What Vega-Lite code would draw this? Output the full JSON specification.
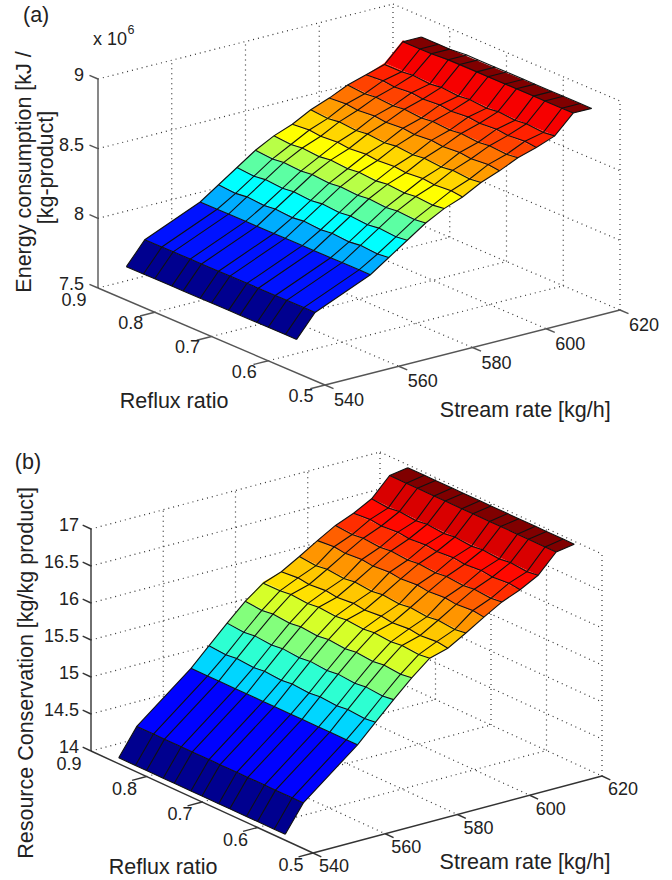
{"$schema":"https://vega.github.io/schema/vega-lite/v6.json","padding":0,"spacing":0,"background":"white","resolve":{"scale":{"fill":"independent"}},"config":{"view":{"stroke":null},"text":{"font":"Liberation Sans","fill":"#222"},"concat":{"spacing":0}},"vconcat":[
{"width":672,"height":440,"data":{"values":[
{"k":"g","g":"f1","s":560,"r":0.5,"z":7.5},{"k":"g","g":"f1","s":560,"r":0.9,"z":7.5},{"k":"g","g":"f2","s":580,"r":0.5,"z":7.5},{"k":"g","g":"f2","s":580,"r":0.9,"z":7.5},{"k":"g","g":"f3","s":600,"r":0.5,"z":7.5},{"k":"g","g":"f3","s":600,"r":0.9,"z":7.5},{"k":"g","g":"f4","s":620,"r":0.5,"z":7.5},{"k":"g","g":"f4","s":620,"r":0.9,"z":7.5},
{"k":"g","g":"f5","s":540,"r":0.6,"z":7.5},{"k":"g","g":"f5","s":620,"r":0.6,"z":7.5},{"k":"g","g":"f6","s":540,"r":0.7,"z":7.5},{"k":"g","g":"f6","s":620,"r":0.7,"z":7.5},{"k":"g","g":"f7","s":540,"r":0.8,"z":7.5},{"k":"g","g":"f7","s":620,"r":0.8,"z":7.5},{"k":"g","g":"f8","s":540,"r":0.9,"z":7.5},{"k":"g","g":"f8","s":620,"r":0.9,"z":7.5},
{"k":"g","g":"w1","s":540,"r":0.9,"z":8},{"k":"g","g":"w1","s":620,"r":0.9,"z":8},{"k":"g","g":"w2","s":540,"r":0.9,"z":8.5},{"k":"g","g":"w2","s":620,"r":0.9,"z":8.5},{"k":"g","g":"w3","s":540,"r":0.9,"z":9},{"k":"g","g":"w3","s":620,"r":0.9,"z":9},
{"k":"g","g":"v1","s":560,"r":0.9,"z":7.5},{"k":"g","g":"v1","s":560,"r":0.9,"z":9},{"k":"g","g":"v2","s":580,"r":0.9,"z":7.5},{"k":"g","g":"v2","s":580,"r":0.9,"z":9},{"k":"g","g":"v3","s":600,"r":0.9,"z":7.5},{"k":"g","g":"v3","s":600,"r":0.9,"z":9},{"k":"g","g":"v4","s":620,"r":0.9,"z":7.5},{"k":"g","g":"v4","s":620,"r":0.9,"z":9},
{"k":"g","g":"x1","s":620,"r":0.9,"z":8},{"k":"g","g":"x1","s":620,"r":0.5,"z":8},{"k":"g","g":"x2","s":620,"r":0.9,"z":8.5},{"k":"g","g":"x2","s":620,"r":0.5,"z":8.5},{"k":"g","g":"x3","s":620,"r":0.9,"z":9},{"k":"g","g":"x3","s":620,"r":0.5,"z":9},
{"k":"g","g":"h1","s":620,"r":0.5,"z":7.5},{"k":"g","g":"h1","s":620,"r":0.5,"z":9},{"k":"g","g":"h2","s":620,"r":0.6,"z":7.5},{"k":"g","g":"h2","s":620,"r":0.6,"z":9},{"k":"g","g":"h3","s":620,"r":0.7,"z":7.5},{"k":"g","g":"h3","s":620,"r":0.7,"z":9},{"k":"g","g":"h4","s":620,"r":0.8,"z":7.5},{"k":"g","g":"h4","s":620,"r":0.8,"z":9},
{"k":"a","g":"zx","s":540,"r":0.9,"z":7.5},{"k":"a","g":"zx","s":540,"r":0.9,"z":9},{"k":"a","g":"rx","s":540,"r":0.9,"z":7.5},{"k":"a","g":"rx","s":540,"r":0.5,"z":7.5},{"k":"a","g":"sx","s":540,"r":0.5,"z":7.5},{"k":"a","g":"sx","s":620,"r":0.5,"z":7.5},
{"k":"a","g":"t1","s":540,"r":0.9,"z":7.5},{"k":"a","g":"t1","s":540,"r":0.915,"z":7.5},{"k":"a","g":"t2","s":540,"r":0.9,"z":8},{"k":"a","g":"t2","s":540,"r":0.915,"z":8},{"k":"a","g":"t3","s":540,"r":0.9,"z":8.5},{"k":"a","g":"t3","s":540,"r":0.915,"z":8.5},{"k":"a","g":"t4","s":540,"r":0.9,"z":9},{"k":"a","g":"t4","s":540,"r":0.915,"z":9},
{"k":"a","g":"t5","s":540,"r":0.8,"z":7.5},{"k":"a","g":"t5","s":536,"r":0.8,"z":7.5},{"k":"a","g":"t6","s":540,"r":0.7,"z":7.5},{"k":"a","g":"t6","s":536,"r":0.7,"z":7.5},{"k":"a","g":"t7","s":540,"r":0.6,"z":7.5},{"k":"a","g":"t7","s":536,"r":0.6,"z":7.5},{"k":"a","g":"t8","s":540,"r":0.5,"z":7.5},{"k":"a","g":"t8","s":536,"r":0.5,"z":7.5},
{"k":"a","g":"t9","s":540,"r":0.5,"z":7.5},{"k":"a","g":"t9","s":540,"r":0.485,"z":7.5},{"k":"a","g":"t10","s":560,"r":0.5,"z":7.5},{"k":"a","g":"t10","s":560,"r":0.485,"z":7.5},{"k":"a","g":"t11","s":580,"r":0.5,"z":7.5},{"k":"a","g":"t11","s":580,"r":0.485,"z":7.5},{"k":"a","g":"t12","s":600,"r":0.5,"z":7.5},{"k":"a","g":"t12","s":600,"r":0.485,"z":7.5},{"k":"a","g":"t13","s":620,"r":0.5,"z":7.5},{"k":"a","g":"t13","s":620,"r":0.485,"z":7.5},
{"k":"b","b":0,"o":0,"s":540,"r":0.55,"z":7.74,"c":7.74},{"k":"b","b":0,"o":1,"s":545,"r":0.55,"z":7.9,"c":7.74},{"k":"b","b":0,"o":2,"s":545,"r":0.85,"z":7.9,"c":7.74},{"k":"b","b":0,"o":3,"s":540,"r":0.85,"z":7.74,"c":7.74},
{"k":"b","b":1,"o":0,"s":545,"r":0.55,"z":7.9,"c":7.9},{"k":"b","b":1,"o":1,"s":560,"r":0.55,"z":8.07,"c":7.9},{"k":"b","b":1,"o":2,"s":560,"r":0.85,"z":8.07,"c":7.9},{"k":"b","b":1,"o":3,"s":545,"r":0.85,"z":7.9,"c":7.9},
{"k":"b","b":2,"o":0,"s":560,"r":0.55,"z":8.07,"c":8.07},{"k":"b","b":2,"o":1,"s":565,"r":0.55,"z":8.16,"c":8.07},{"k":"b","b":2,"o":2,"s":565,"r":0.85,"z":8.16,"c":8.07},{"k":"b","b":2,"o":3,"s":560,"r":0.85,"z":8.07,"c":8.07},
{"k":"b","b":3,"o":0,"s":565,"r":0.55,"z":8.16,"c":8.16},{"k":"b","b":3,"o":1,"s":570,"r":0.55,"z":8.25,"c":8.16},{"k":"b","b":3,"o":2,"s":570,"r":0.85,"z":8.25,"c":8.16},{"k":"b","b":3,"o":3,"s":565,"r":0.85,"z":8.16,"c":8.16},
{"k":"b","b":4,"o":0,"s":570,"r":0.55,"z":8.25,"c":8.25},{"k":"b","b":4,"o":1,"s":575,"r":0.55,"z":8.34,"c":8.25},{"k":"b","b":4,"o":2,"s":575,"r":0.85,"z":8.34,"c":8.25},{"k":"b","b":4,"o":3,"s":570,"r":0.85,"z":8.25,"c":8.25},
{"k":"b","b":5,"o":0,"s":575,"r":0.55,"z":8.34,"c":8.34},{"k":"b","b":5,"o":1,"s":580,"r":0.55,"z":8.41,"c":8.34},{"k":"b","b":5,"o":2,"s":580,"r":0.85,"z":8.41,"c":8.34},{"k":"b","b":5,"o":3,"s":575,"r":0.85,"z":8.34,"c":8.34},
{"k":"b","b":6,"o":0,"s":580,"r":0.55,"z":8.41,"c":8.41},{"k":"b","b":6,"o":1,"s":585,"r":0.55,"z":8.46,"c":8.41},{"k":"b","b":6,"o":2,"s":585,"r":0.85,"z":8.46,"c":8.41},{"k":"b","b":6,"o":3,"s":580,"r":0.85,"z":8.41,"c":8.41},
{"k":"b","b":7,"o":0,"s":585,"r":0.55,"z":8.46,"c":8.46},{"k":"b","b":7,"o":1,"s":590,"r":0.55,"z":8.53,"c":8.46},{"k":"b","b":7,"o":2,"s":590,"r":0.85,"z":8.53,"c":8.46},{"k":"b","b":7,"o":3,"s":585,"r":0.85,"z":8.46,"c":8.46},
{"k":"b","b":8,"o":0,"s":590,"r":0.55,"z":8.53,"c":8.53},{"k":"b","b":8,"o":1,"s":595,"r":0.55,"z":8.58,"c":8.53},{"k":"b","b":8,"o":2,"s":595,"r":0.85,"z":8.58,"c":8.53},{"k":"b","b":8,"o":3,"s":590,"r":0.85,"z":8.53,"c":8.53},
{"k":"b","b":9,"o":0,"s":595,"r":0.55,"z":8.58,"c":8.58},{"k":"b","b":9,"o":1,"s":600,"r":0.55,"z":8.64,"c":8.58},{"k":"b","b":9,"o":2,"s":600,"r":0.85,"z":8.64,"c":8.58},{"k":"b","b":9,"o":3,"s":595,"r":0.85,"z":8.58,"c":8.58},
{"k":"b","b":10,"o":0,"s":600,"r":0.55,"z":8.64,"c":8.64},{"k":"b","b":10,"o":1,"s":605,"r":0.55,"z":8.68,"c":8.64},{"k":"b","b":10,"o":2,"s":605,"r":0.85,"z":8.68,"c":8.64},{"k":"b","b":10,"o":3,"s":600,"r":0.85,"z":8.64,"c":8.64},
{"k":"b","b":11,"o":0,"s":605,"r":0.55,"z":8.68,"c":8.68},{"k":"b","b":11,"o":1,"s":610,"r":0.55,"z":8.73,"c":8.68},{"k":"b","b":11,"o":2,"s":610,"r":0.85,"z":8.73,"c":8.68},{"k":"b","b":11,"o":3,"s":605,"r":0.85,"z":8.68,"c":8.68},
{"k":"b","b":12,"o":0,"s":610,"r":0.55,"z":8.73,"c":8.73},{"k":"b","b":12,"o":1,"s":615,"r":0.55,"z":8.86,"c":8.73},{"k":"b","b":12,"o":2,"s":615,"r":0.85,"z":8.86,"c":8.73},{"k":"b","b":12,"o":3,"s":610,"r":0.85,"z":8.73,"c":8.73},
{"k":"b","b":13,"o":0,"s":615,"r":0.55,"z":8.86,"c":8.86},{"k":"b","b":13,"o":1,"s":620,"r":0.55,"z":8.86,"c":8.86},{"k":"b","b":13,"o":2,"s":620,"r":0.85,"z":8.85,"c":8.86},{"k":"b","b":13,"o":3,"s":615,"r":0.85,"z":8.85,"c":8.86},
{"k":"n","s":540,"r":0.55,"z":7.74},{"k":"n","s":540,"r":0.57,"z":7.74},{"k":"n","s":540,"r":0.6,"z":7.74},{"k":"n","s":540,"r":0.62,"z":7.74},{"k":"n","s":540,"r":0.65,"z":7.74},{"k":"n","s":540,"r":0.67,"z":7.74},{"k":"n","s":540,"r":0.7,"z":7.74},{"k":"n","s":540,"r":0.72,"z":7.74},{"k":"n","s":540,"r":0.75,"z":7.74},{"k":"n","s":540,"r":0.77,"z":7.74},{"k":"n","s":540,"r":0.8,"z":7.74},{"k":"n","s":540,"r":0.82,"z":7.74},{"k":"n","s":540,"r":0.85,"z":7.74},
{"k":"n","s":545,"r":0.55,"z":7.9},{"k":"n","s":545,"r":0.57,"z":7.9},{"k":"n","s":545,"r":0.6,"z":7.9},{"k":"n","s":545,"r":0.62,"z":7.9},{"k":"n","s":545,"r":0.65,"z":7.9},{"k":"n","s":545,"r":0.67,"z":7.9},{"k":"n","s":545,"r":0.7,"z":7.9},{"k":"n","s":545,"r":0.72,"z":7.9},{"k":"n","s":545,"r":0.75,"z":7.9},{"k":"n","s":545,"r":0.77,"z":7.9},{"k":"n","s":545,"r":0.8,"z":7.9},{"k":"n","s":545,"r":0.82,"z":7.9},{"k":"n","s":545,"r":0.85,"z":7.9},
{"k":"n","s":560,"r":0.55,"z":8.07},{"k":"n","s":560,"r":0.57,"z":8.07},{"k":"n","s":560,"r":0.6,"z":8.07},{"k":"n","s":560,"r":0.62,"z":8.07},{"k":"n","s":560,"r":0.65,"z":8.07},{"k":"n","s":560,"r":0.67,"z":8.07},{"k":"n","s":560,"r":0.7,"z":8.07},{"k":"n","s":560,"r":0.72,"z":8.07},{"k":"n","s":560,"r":0.75,"z":8.07},{"k":"n","s":560,"r":0.77,"z":8.07},{"k":"n","s":560,"r":0.8,"z":8.07},{"k":"n","s":560,"r":0.82,"z":8.07},{"k":"n","s":560,"r":0.85,"z":8.07},
{"k":"n","s":565,"r":0.55,"z":8.16},{"k":"n","s":565,"r":0.57,"z":8.15},{"k":"n","s":565,"r":0.6,"z":8.16},{"k":"n","s":565,"r":0.62,"z":8.15},{"k":"n","s":565,"r":0.65,"z":8.16},{"k":"n","s":565,"r":0.67,"z":8.15},{"k":"n","s":565,"r":0.7,"z":8.16},{"k":"n","s":565,"r":0.72,"z":8.15},{"k":"n","s":565,"r":0.75,"z":8.16},{"k":"n","s":565,"r":0.77,"z":8.15},{"k":"n","s":565,"r":0.8,"z":8.16},{"k":"n","s":565,"r":0.82,"z":8.15},{"k":"n","s":565,"r":0.85,"z":8.16},
{"k":"n","s":570,"r":0.55,"z":8.25},{"k":"n","s":570,"r":0.57,"z":8.24},{"k":"n","s":570,"r":0.6,"z":8.25},{"k":"n","s":570,"r":0.62,"z":8.24},{"k":"n","s":570,"r":0.65,"z":8.25},{"k":"n","s":570,"r":0.67,"z":8.24},{"k":"n","s":570,"r":0.7,"z":8.25},{"k":"n","s":570,"r":0.72,"z":8.24},{"k":"n","s":570,"r":0.75,"z":8.25},{"k":"n","s":570,"r":0.77,"z":8.24},{"k":"n","s":570,"r":0.8,"z":8.25},{"k":"n","s":570,"r":0.82,"z":8.24},{"k":"n","s":570,"r":0.85,"z":8.25},
{"k":"n","s":575,"r":0.55,"z":8.34},{"k":"n","s":575,"r":0.57,"z":8.33},{"k":"n","s":575,"r":0.6,"z":8.34},{"k":"n","s":575,"r":0.62,"z":8.33},{"k":"n","s":575,"r":0.65,"z":8.34},{"k":"n","s":575,"r":0.67,"z":8.33},{"k":"n","s":575,"r":0.7,"z":8.34},{"k":"n","s":575,"r":0.72,"z":8.33},{"k":"n","s":575,"r":0.75,"z":8.34},{"k":"n","s":575,"r":0.77,"z":8.33},{"k":"n","s":575,"r":0.8,"z":8.34},{"k":"n","s":575,"r":0.82,"z":8.33},{"k":"n","s":575,"r":0.85,"z":8.34},
{"k":"n","s":580,"r":0.55,"z":8.41},{"k":"n","s":580,"r":0.57,"z":8.4},{"k":"n","s":580,"r":0.6,"z":8.41},{"k":"n","s":580,"r":0.62,"z":8.4},{"k":"n","s":580,"r":0.65,"z":8.41},{"k":"n","s":580,"r":0.67,"z":8.4},{"k":"n","s":580,"r":0.7,"z":8.41},{"k":"n","s":580,"r":0.72,"z":8.4},{"k":"n","s":580,"r":0.75,"z":8.41},{"k":"n","s":580,"r":0.77,"z":8.4},{"k":"n","s":580,"r":0.8,"z":8.41},{"k":"n","s":580,"r":0.82,"z":8.4},{"k":"n","s":580,"r":0.85,"z":8.41},
{"k":"n","s":585,"r":0.55,"z":8.46},{"k":"n","s":585,"r":0.57,"z":8.47},{"k":"n","s":585,"r":0.6,"z":8.46},{"k":"n","s":585,"r":0.62,"z":8.47},{"k":"n","s":585,"r":0.65,"z":8.46},{"k":"n","s":585,"r":0.67,"z":8.47},{"k":"n","s":585,"r":0.7,"z":8.46},{"k":"n","s":585,"r":0.72,"z":8.47},{"k":"n","s":585,"r":0.75,"z":8.46},{"k":"n","s":585,"r":0.77,"z":8.47},{"k":"n","s":585,"r":0.8,"z":8.46},{"k":"n","s":585,"r":0.82,"z":8.47},{"k":"n","s":585,"r":0.85,"z":8.46},
{"k":"n","s":590,"r":0.55,"z":8.53},{"k":"n","s":590,"r":0.57,"z":8.52},{"k":"n","s":590,"r":0.6,"z":8.53},{"k":"n","s":590,"r":0.62,"z":8.52},{"k":"n","s":590,"r":0.65,"z":8.53},{"k":"n","s":590,"r":0.67,"z":8.52},{"k":"n","s":590,"r":0.7,"z":8.53},{"k":"n","s":590,"r":0.72,"z":8.52},{"k":"n","s":590,"r":0.75,"z":8.53},{"k":"n","s":590,"r":0.77,"z":8.52},{"k":"n","s":590,"r":0.8,"z":8.53},{"k":"n","s":590,"r":0.82,"z":8.52},{"k":"n","s":590,"r":0.85,"z":8.53},
{"k":"n","s":595,"r":0.55,"z":8.58},{"k":"n","s":595,"r":0.57,"z":8.59},{"k":"n","s":595,"r":0.6,"z":8.58},{"k":"n","s":595,"r":0.62,"z":8.59},{"k":"n","s":595,"r":0.65,"z":8.58},{"k":"n","s":595,"r":0.67,"z":8.59},{"k":"n","s":595,"r":0.7,"z":8.58},{"k":"n","s":595,"r":0.72,"z":8.59},{"k":"n","s":595,"r":0.75,"z":8.58},{"k":"n","s":595,"r":0.77,"z":8.59},{"k":"n","s":595,"r":0.8,"z":8.58},{"k":"n","s":595,"r":0.82,"z":8.59},{"k":"n","s":595,"r":0.85,"z":8.58},
{"k":"n","s":600,"r":0.55,"z":8.64},{"k":"n","s":600,"r":0.57,"z":8.63},{"k":"n","s":600,"r":0.6,"z":8.64},{"k":"n","s":600,"r":0.62,"z":8.63},{"k":"n","s":600,"r":0.65,"z":8.64},{"k":"n","s":600,"r":0.67,"z":8.63},{"k":"n","s":600,"r":0.7,"z":8.64},{"k":"n","s":600,"r":0.72,"z":8.63},{"k":"n","s":600,"r":0.75,"z":8.64},{"k":"n","s":600,"r":0.77,"z":8.63},{"k":"n","s":600,"r":0.8,"z":8.64},{"k":"n","s":600,"r":0.82,"z":8.63},{"k":"n","s":600,"r":0.85,"z":8.64},
{"k":"n","s":605,"r":0.55,"z":8.68},{"k":"n","s":605,"r":0.57,"z":8.69},{"k":"n","s":605,"r":0.6,"z":8.68},{"k":"n","s":605,"r":0.62,"z":8.69},{"k":"n","s":605,"r":0.65,"z":8.68},{"k":"n","s":605,"r":0.67,"z":8.69},{"k":"n","s":605,"r":0.7,"z":8.68},{"k":"n","s":605,"r":0.72,"z":8.69},{"k":"n","s":605,"r":0.75,"z":8.68},{"k":"n","s":605,"r":0.77,"z":8.69},{"k":"n","s":605,"r":0.8,"z":8.68},{"k":"n","s":605,"r":0.82,"z":8.69},{"k":"n","s":605,"r":0.85,"z":8.68},
{"k":"n","s":610,"r":0.55,"z":8.73},{"k":"n","s":610,"r":0.57,"z":8.72},{"k":"n","s":610,"r":0.6,"z":8.73},{"k":"n","s":610,"r":0.62,"z":8.72},{"k":"n","s":610,"r":0.65,"z":8.73},{"k":"n","s":610,"r":0.67,"z":8.72},{"k":"n","s":610,"r":0.7,"z":8.73},{"k":"n","s":610,"r":0.72,"z":8.72},{"k":"n","s":610,"r":0.75,"z":8.73},{"k":"n","s":610,"r":0.77,"z":8.72},{"k":"n","s":610,"r":0.8,"z":8.73},{"k":"n","s":610,"r":0.82,"z":8.72},{"k":"n","s":610,"r":0.85,"z":8.72},
{"k":"n","s":615,"r":0.55,"z":8.86},{"k":"n","s":615,"r":0.57,"z":8.86},{"k":"n","s":615,"r":0.6,"z":8.86},{"k":"n","s":615,"r":0.62,"z":8.86},{"k":"n","s":615,"r":0.65,"z":8.86},{"k":"n","s":615,"r":0.67,"z":8.86},{"k":"n","s":615,"r":0.7,"z":8.86},{"k":"n","s":615,"r":0.72,"z":8.86},{"k":"n","s":615,"r":0.75,"z":8.86},{"k":"n","s":615,"r":0.77,"z":8.86},{"k":"n","s":615,"r":0.8,"z":8.85},{"k":"n","s":615,"r":0.82,"z":8.85},{"k":"n","s":615,"r":0.85,"z":8.85},
{"k":"n","s":620,"r":0.55,"z":8.86},{"k":"n","s":620,"r":0.57,"z":8.86},{"k":"n","s":620,"r":0.6,"z":8.86},{"k":"n","s":620,"r":0.62,"z":8.86},{"k":"n","s":620,"r":0.65,"z":8.86},{"k":"n","s":620,"r":0.67,"z":8.86},{"k":"n","s":620,"r":0.7,"z":8.86},{"k":"n","s":620,"r":0.72,"z":8.86},{"k":"n","s":620,"r":0.75,"z":8.86},{"k":"n","s":620,"r":0.77,"z":8.86},{"k":"n","s":620,"r":0.8,"z":8.85},{"k":"n","s":620,"r":0.82,"z":8.85},{"k":"n","s":620,"r":0.85,"z":8.85},
{"k":"t","s":540,"r":0.4577,"z":7.4587,"t":"540"},{"k":"t","s":560,"r":0.4577,"z":7.4587,"t":"560"},{"k":"t","s":580,"r":0.4577,"z":7.4587,"t":"580"},{"k":"t","s":600,"r":0.4577,"z":7.4587,"t":"600"},{"k":"t","s":620,"r":0.4577,"z":7.4587,"t":"620"},
{"k":"t","s":533.5,"r":0.5,"z":7.458,"t":"0.5"},{"k":"t","s":533.5,"r":0.6,"z":7.458,"t":"0.6"},{"k":"t","s":533.5,"r":0.7,"z":7.458,"t":"0.7"},{"k":"t","s":533.5,"r":0.8,"z":7.458,"t":"0.8"},{"k":"t","s":533.5,"r":0.9,"z":7.45,"t":"0.9"},
{"k":"z","s":540,"r":0.9,"z":7.5,"t":"7.5"},{"k":"z","s":540,"r":0.9,"z":8,"t":"8"},{"k":"z","s":540,"r":0.9,"z":8.5,"t":"8.5"},{"k":"z","s":540,"r":0.9,"z":9,"t":"9"},
{"k":"l","s":540,"r":1.009,"z":9.262,"t":"(a)"},{"k":"l","s":540,"r":0.766,"z":6.915,"t":"Reflux ratio"},{"k":"l","s":620,"r":0.667,"z":6.483,"t":"Stream rate [kg/h]"},
{"k":"m","s":540,"r":0.879,"z":9.317,"t":"x 10"},{"k":"u","s":540,"r":0.842,"z":9.453,"t":"6"},
{"k":"y","s":540,"r":1.0286,"z":8.109,"t":"Energy consumption [kJ /"},{"k":"y","s":540,"r":0.989,"z":8.21,"t":"[kg-product]"}
]},"transform":[{"calculate":"325+295*(datum.s-540)/80-227*(datum.r-0.5)/0.4","as":"px"},{"calculate":"385-75*(datum.s-540)/80-97*(datum.r-0.5)/0.4-209*(datum.z-7.5)/1.5","as":"py"}],
"encoding":{"x":{"field":"px","type":"quantitative","scale":{"domain":[0,672],"nice":false,"zero":false},"axis":null},"y":{"field":"py","type":"quantitative","scale":{"domain":[440,0],"nice":false,"zero":false},"axis":null}},
"layer":[
{"transform":[{"filter":"datum.k=='g'"}],"mark":{"type":"line","stroke":"#333","strokeWidth":1.2,"strokeDash":[1,4]},"encoding":{"detail":{"field":"g"}}},
{"transform":[{"filter":"datum.k=='a'"}],"mark":{"type":"line","stroke":"#555","strokeWidth":1.4},"encoding":{"detail":{"field":"g"}}},
{"transform":[{"filter":"datum.k=='b'"}],"mark":{"type":"line","stroke":null,"strokeWidth":0},"encoding":{"fill":{"field":"c","type":"quantitative","legend":null,"scale":{"domain":[7.74,7.88,8.16,8.41,8.72,8.86],"range":["#00008f","#0000ff","#00ffff","#ffff00","#ff0000","#800000"],"interpolate":"rgb"}},"detail":{"field":"b"},"order":{"field":"o"}}},
{"transform":[{"filter":"datum.k=='n'"}],"mark":{"type":"line","stroke":"#111","strokeWidth":1.1},"encoding":{"detail":{"field":"r"}}},
{"transform":[{"filter":"datum.k=='n'"}],"mark":{"type":"line","stroke":"#111","strokeWidth":1.1},"encoding":{"detail":{"field":"s"}}},
{"transform":[{"filter":"datum.k=='t'"}],"mark":{"type":"text","fontSize":18,"baseline":"middle","align":"center"},"encoding":{"text":{"field":"t"}}},
{"transform":[{"filter":"datum.k=='z'"}],"mark":{"type":"text","fontSize":18,"baseline":"middle","align":"right","dx":-14,"dy":-3},"encoding":{"text":{"field":"t"}}},
{"transform":[{"filter":"datum.k=='l'"}],"mark":{"type":"text","fontSize":21.5,"baseline":"middle","align":"center"},"encoding":{"text":{"field":"t"}}},
{"transform":[{"filter":"datum.k=='m'"}],"mark":{"type":"text","fontSize":18,"baseline":"middle","align":"center"},"encoding":{"text":{"field":"t"}}},
{"transform":[{"filter":"datum.k=='u'"}],"mark":{"type":"text","fontSize":12.5,"baseline":"middle","align":"center"},"encoding":{"text":{"field":"t"}}},
{"transform":[{"filter":"datum.k=='y'"}],"mark":{"type":"text","fontSize":21.5,"baseline":"middle","align":"center","angle":270},"encoding":{"text":{"field":"t"}}}
]},
{"width":672,"height":440,"data":{"values":[
{"k":"g","g":"f1","s":560,"r":0.5,"z":14},{"k":"g","g":"f1","s":560,"r":0.9,"z":14},{"k":"g","g":"f2","s":580,"r":0.5,"z":14},{"k":"g","g":"f2","s":580,"r":0.9,"z":14},{"k":"g","g":"f3","s":600,"r":0.5,"z":14},{"k":"g","g":"f3","s":600,"r":0.9,"z":14},{"k":"g","g":"f4","s":620,"r":0.5,"z":14},{"k":"g","g":"f4","s":620,"r":0.9,"z":14},
{"k":"g","g":"f5","s":540,"r":0.6,"z":14},{"k":"g","g":"f5","s":620,"r":0.6,"z":14},{"k":"g","g":"f6","s":540,"r":0.7,"z":14},{"k":"g","g":"f6","s":620,"r":0.7,"z":14},{"k":"g","g":"f7","s":540,"r":0.8,"z":14},{"k":"g","g":"f7","s":620,"r":0.8,"z":14},{"k":"g","g":"f8","s":540,"r":0.9,"z":14},{"k":"g","g":"f8","s":620,"r":0.9,"z":14},
{"k":"g","g":"w1","s":540,"r":0.9,"z":14.5},{"k":"g","g":"w1","s":620,"r":0.9,"z":14.5},{"k":"g","g":"w2","s":540,"r":0.9,"z":15},{"k":"g","g":"w2","s":620,"r":0.9,"z":15},{"k":"g","g":"w3","s":540,"r":0.9,"z":15.5},{"k":"g","g":"w3","s":620,"r":0.9,"z":15.5},{"k":"g","g":"w4","s":540,"r":0.9,"z":16},{"k":"g","g":"w4","s":620,"r":0.9,"z":16},{"k":"g","g":"w5","s":540,"r":0.9,"z":16.5},{"k":"g","g":"w5","s":620,"r":0.9,"z":16.5},{"k":"g","g":"w6","s":540,"r":0.9,"z":17},{"k":"g","g":"w6","s":620,"r":0.9,"z":17},
{"k":"g","g":"v1","s":560,"r":0.9,"z":14},{"k":"g","g":"v1","s":560,"r":0.9,"z":17},{"k":"g","g":"v2","s":580,"r":0.9,"z":14},{"k":"g","g":"v2","s":580,"r":0.9,"z":17},{"k":"g","g":"v3","s":600,"r":0.9,"z":14},{"k":"g","g":"v3","s":600,"r":0.9,"z":17},{"k":"g","g":"v4","s":620,"r":0.9,"z":14},{"k":"g","g":"v4","s":620,"r":0.9,"z":17},
{"k":"g","g":"x1","s":620,"r":0.9,"z":14.5},{"k":"g","g":"x1","s":620,"r":0.5,"z":14.5},{"k":"g","g":"x2","s":620,"r":0.9,"z":15},{"k":"g","g":"x2","s":620,"r":0.5,"z":15},{"k":"g","g":"x3","s":620,"r":0.9,"z":15.5},{"k":"g","g":"x3","s":620,"r":0.5,"z":15.5},{"k":"g","g":"x4","s":620,"r":0.9,"z":16},{"k":"g","g":"x4","s":620,"r":0.5,"z":16},{"k":"g","g":"x5","s":620,"r":0.9,"z":16.5},{"k":"g","g":"x5","s":620,"r":0.5,"z":16.5},{"k":"g","g":"x6","s":620,"r":0.9,"z":17},{"k":"g","g":"x6","s":620,"r":0.5,"z":17},
{"k":"g","g":"h1","s":620,"r":0.5,"z":14},{"k":"g","g":"h1","s":620,"r":0.5,"z":17},{"k":"g","g":"h2","s":620,"r":0.6,"z":14},{"k":"g","g":"h2","s":620,"r":0.6,"z":17},{"k":"g","g":"h3","s":620,"r":0.7,"z":14},{"k":"g","g":"h3","s":620,"r":0.7,"z":17},{"k":"g","g":"h4","s":620,"r":0.8,"z":14},{"k":"g","g":"h4","s":620,"r":0.8,"z":17},
{"k":"a","g":"zx","s":540,"r":0.9,"z":14},{"k":"a","g":"zx","s":540,"r":0.9,"z":17},{"k":"a","g":"rx","s":540,"r":0.9,"z":14},{"k":"a","g":"rx","s":540,"r":0.5,"z":14},{"k":"a","g":"sx","s":540,"r":0.5,"z":14},{"k":"a","g":"sx","s":620,"r":0.5,"z":14},
{"k":"a","g":"t1","s":540,"r":0.9,"z":14},{"k":"a","g":"t1","s":540,"r":0.915,"z":14},{"k":"a","g":"t2","s":540,"r":0.9,"z":14.5},{"k":"a","g":"t2","s":540,"r":0.915,"z":14.5},{"k":"a","g":"t3","s":540,"r":0.9,"z":15},{"k":"a","g":"t3","s":540,"r":0.915,"z":15},{"k":"a","g":"t3b","s":540,"r":0.9,"z":15.5},{"k":"a","g":"t3b","s":540,"r":0.915,"z":15.5},{"k":"a","g":"t3c","s":540,"r":0.9,"z":16},{"k":"a","g":"t3c","s":540,"r":0.915,"z":16},{"k":"a","g":"t3d","s":540,"r":0.9,"z":16.5},{"k":"a","g":"t3d","s":540,"r":0.915,"z":16.5},{"k":"a","g":"t4","s":540,"r":0.9,"z":17},{"k":"a","g":"t4","s":540,"r":0.915,"z":17},
{"k":"a","g":"t5","s":540,"r":0.8,"z":14},{"k":"a","g":"t5","s":536,"r":0.8,"z":14},{"k":"a","g":"t6","s":540,"r":0.7,"z":14},{"k":"a","g":"t6","s":536,"r":0.7,"z":14},{"k":"a","g":"t7","s":540,"r":0.6,"z":14},{"k":"a","g":"t7","s":536,"r":0.6,"z":14},{"k":"a","g":"t8","s":540,"r":0.5,"z":14},{"k":"a","g":"t8","s":536,"r":0.5,"z":14},
{"k":"a","g":"t9","s":540,"r":0.5,"z":14},{"k":"a","g":"t9","s":540,"r":0.485,"z":14},{"k":"a","g":"t10","s":560,"r":0.5,"z":14},{"k":"a","g":"t10","s":560,"r":0.485,"z":14},{"k":"a","g":"t11","s":580,"r":0.5,"z":14},{"k":"a","g":"t11","s":580,"r":0.485,"z":14},{"k":"a","g":"t12","s":600,"r":0.5,"z":14},{"k":"a","g":"t12","s":600,"r":0.485,"z":14},{"k":"a","g":"t13","s":620,"r":0.5,"z":14},{"k":"a","g":"t13","s":620,"r":0.485,"z":14},
{"k":"b","b":0,"o":0,"s":540,"r":0.55,"z":14.08,"c":14.08},{"k":"b","b":0,"o":1,"s":545,"r":0.55,"z":14.44,"c":14.08},{"k":"b","b":0,"o":2,"s":545,"r":0.85,"z":14.44,"c":14.08},{"k":"b","b":0,"o":3,"s":540,"r":0.85,"z":14.08,"c":14.08},
{"k":"b","b":1,"o":0,"s":545,"r":0.55,"z":14.44,"c":14.44},{"k":"b","b":1,"o":1,"s":560,"r":0.55,"z":15.03,"c":14.44},{"k":"b","b":1,"o":2,"s":560,"r":0.85,"z":15.03,"c":14.44},{"k":"b","b":1,"o":3,"s":545,"r":0.85,"z":14.44,"c":14.44},
{"k":"b","b":2,"o":0,"s":560,"r":0.55,"z":15.03,"c":15.03},{"k":"b","b":2,"o":1,"s":565,"r":0.55,"z":15.27,"c":15.03},{"k":"b","b":2,"o":2,"s":565,"r":0.85,"z":15.27,"c":15.03},{"k":"b","b":2,"o":3,"s":560,"r":0.85,"z":15.03,"c":15.03},
{"k":"b","b":3,"o":0,"s":565,"r":0.55,"z":15.27,"c":15.27},{"k":"b","b":3,"o":1,"s":570,"r":0.55,"z":15.51,"c":15.27},{"k":"b","b":3,"o":2,"s":570,"r":0.85,"z":15.51,"c":15.27},{"k":"b","b":3,"o":3,"s":565,"r":0.85,"z":15.27,"c":15.27},
{"k":"b","b":4,"o":0,"s":570,"r":0.55,"z":15.51,"c":15.51},{"k":"b","b":4,"o":1,"s":575,"r":0.55,"z":15.74,"c":15.51},{"k":"b","b":4,"o":2,"s":575,"r":0.85,"z":15.74,"c":15.51},{"k":"b","b":4,"o":3,"s":570,"r":0.85,"z":15.51,"c":15.51},
{"k":"b","b":5,"o":0,"s":575,"r":0.55,"z":15.74,"c":15.74},{"k":"b","b":5,"o":1,"s":580,"r":0.55,"z":15.94,"c":15.74},{"k":"b","b":5,"o":2,"s":580,"r":0.85,"z":15.94,"c":15.74},{"k":"b","b":5,"o":3,"s":575,"r":0.85,"z":15.74,"c":15.74},
{"k":"b","b":6,"o":0,"s":580,"r":0.55,"z":15.94,"c":15.94},{"k":"b","b":6,"o":1,"s":585,"r":0.55,"z":16.01,"c":15.94},{"k":"b","b":6,"o":2,"s":585,"r":0.85,"z":16.01,"c":15.94},{"k":"b","b":6,"o":3,"s":580,"r":0.85,"z":15.94,"c":15.94},
{"k":"b","b":7,"o":0,"s":585,"r":0.55,"z":16.01,"c":16.01},{"k":"b","b":7,"o":1,"s":590,"r":0.55,"z":16.15,"c":16.01},{"k":"b","b":7,"o":2,"s":590,"r":0.85,"z":16.15,"c":16.01},{"k":"b","b":7,"o":3,"s":585,"r":0.85,"z":16.01,"c":16.01},
{"k":"b","b":8,"o":0,"s":590,"r":0.55,"z":16.15,"c":16.15},{"k":"b","b":8,"o":1,"s":595,"r":0.55,"z":16.3,"c":16.15},{"k":"b","b":8,"o":2,"s":595,"r":0.85,"z":16.3,"c":16.15},{"k":"b","b":8,"o":3,"s":590,"r":0.85,"z":16.15,"c":16.15},
{"k":"b","b":9,"o":0,"s":595,"r":0.55,"z":16.3,"c":16.3},{"k":"b","b":9,"o":1,"s":600,"r":0.55,"z":16.44,"c":16.3},{"k":"b","b":9,"o":2,"s":600,"r":0.85,"z":16.44,"c":16.3},{"k":"b","b":9,"o":3,"s":595,"r":0.85,"z":16.3,"c":16.3},
{"k":"b","b":10,"o":0,"s":600,"r":0.55,"z":16.44,"c":16.44},{"k":"b","b":10,"o":1,"s":605,"r":0.55,"z":16.54,"c":16.44},{"k":"b","b":10,"o":2,"s":605,"r":0.85,"z":16.54,"c":16.44},{"k":"b","b":10,"o":3,"s":600,"r":0.85,"z":16.44,"c":16.44},
{"k":"b","b":11,"o":0,"s":605,"r":0.55,"z":16.54,"c":16.54},{"k":"b","b":11,"o":1,"s":610,"r":0.55,"z":16.67,"c":16.54},{"k":"b","b":11,"o":2,"s":610,"r":0.85,"z":16.67,"c":16.54},{"k":"b","b":11,"o":3,"s":605,"r":0.85,"z":16.54,"c":16.54},
{"k":"b","b":12,"o":0,"s":610,"r":0.55,"z":16.67,"c":16.67},{"k":"b","b":12,"o":1,"s":615,"r":0.55,"z":16.92,"c":16.67},{"k":"b","b":12,"o":2,"s":615,"r":0.85,"z":16.92,"c":16.67},{"k":"b","b":12,"o":3,"s":610,"r":0.85,"z":16.67,"c":16.67},
{"k":"b","b":13,"o":0,"s":615,"r":0.55,"z":16.92,"c":16.92},{"k":"b","b":13,"o":1,"s":620,"r":0.55,"z":16.96,"c":16.92},{"k":"b","b":13,"o":2,"s":620,"r":0.85,"z":16.96,"c":16.92},{"k":"b","b":13,"o":3,"s":615,"r":0.85,"z":16.92,"c":16.92},
{"k":"n","s":540,"r":0.55,"z":14.08},{"k":"n","s":540,"r":0.57,"z":14.08},{"k":"n","s":540,"r":0.6,"z":14.08},{"k":"n","s":540,"r":0.62,"z":14.08},{"k":"n","s":540,"r":0.65,"z":14.08},{"k":"n","s":540,"r":0.67,"z":14.08},{"k":"n","s":540,"r":0.7,"z":14.08},{"k":"n","s":540,"r":0.72,"z":14.08},{"k":"n","s":540,"r":0.75,"z":14.08},{"k":"n","s":540,"r":0.77,"z":14.08},{"k":"n","s":540,"r":0.8,"z":14.08},{"k":"n","s":540,"r":0.82,"z":14.08},{"k":"n","s":540,"r":0.85,"z":14.08},
{"k":"n","s":545,"r":0.55,"z":14.44},{"k":"n","s":545,"r":0.57,"z":14.44},{"k":"n","s":545,"r":0.6,"z":14.44},{"k":"n","s":545,"r":0.62,"z":14.44},{"k":"n","s":545,"r":0.65,"z":14.44},{"k":"n","s":545,"r":0.67,"z":14.44},{"k":"n","s":545,"r":0.7,"z":14.44},{"k":"n","s":545,"r":0.72,"z":14.44},{"k":"n","s":545,"r":0.75,"z":14.44},{"k":"n","s":545,"r":0.77,"z":14.44},{"k":"n","s":545,"r":0.8,"z":14.44},{"k":"n","s":545,"r":0.82,"z":14.44},{"k":"n","s":545,"r":0.85,"z":14.44},
{"k":"n","s":560,"r":0.55,"z":15.03},{"k":"n","s":560,"r":0.57,"z":15.03},{"k":"n","s":560,"r":0.6,"z":15.03},{"k":"n","s":560,"r":0.62,"z":15.03},{"k":"n","s":560,"r":0.65,"z":15.03},{"k":"n","s":560,"r":0.67,"z":15.03},{"k":"n","s":560,"r":0.7,"z":15.03},{"k":"n","s":560,"r":0.72,"z":15.03},{"k":"n","s":560,"r":0.75,"z":15.03},{"k":"n","s":560,"r":0.77,"z":15.03},{"k":"n","s":560,"r":0.8,"z":15.03},{"k":"n","s":560,"r":0.82,"z":15.03},{"k":"n","s":560,"r":0.85,"z":15.03},
{"k":"n","s":565,"r":0.55,"z":15.27},{"k":"n","s":565,"r":0.57,"z":15.25},{"k":"n","s":565,"r":0.6,"z":15.27},{"k":"n","s":565,"r":0.62,"z":15.25},{"k":"n","s":565,"r":0.65,"z":15.27},{"k":"n","s":565,"r":0.67,"z":15.25},{"k":"n","s":565,"r":0.7,"z":15.27},{"k":"n","s":565,"r":0.72,"z":15.25},{"k":"n","s":565,"r":0.75,"z":15.27},{"k":"n","s":565,"r":0.77,"z":15.25},{"k":"n","s":565,"r":0.8,"z":15.27},{"k":"n","s":565,"r":0.82,"z":15.25},{"k":"n","s":565,"r":0.85,"z":15.27},
{"k":"n","s":570,"r":0.55,"z":15.51},{"k":"n","s":570,"r":0.57,"z":15.49},{"k":"n","s":570,"r":0.6,"z":15.51},{"k":"n","s":570,"r":0.62,"z":15.49},{"k":"n","s":570,"r":0.65,"z":15.51},{"k":"n","s":570,"r":0.67,"z":15.49},{"k":"n","s":570,"r":0.7,"z":15.51},{"k":"n","s":570,"r":0.72,"z":15.49},{"k":"n","s":570,"r":0.75,"z":15.51},{"k":"n","s":570,"r":0.77,"z":15.49},{"k":"n","s":570,"r":0.8,"z":15.51},{"k":"n","s":570,"r":0.82,"z":15.49},{"k":"n","s":570,"r":0.85,"z":15.51},
{"k":"n","s":575,"r":0.55,"z":15.74},{"k":"n","s":575,"r":0.57,"z":15.72},{"k":"n","s":575,"r":0.6,"z":15.74},{"k":"n","s":575,"r":0.62,"z":15.72},{"k":"n","s":575,"r":0.65,"z":15.74},{"k":"n","s":575,"r":0.67,"z":15.72},{"k":"n","s":575,"r":0.7,"z":15.74},{"k":"n","s":575,"r":0.72,"z":15.72},{"k":"n","s":575,"r":0.75,"z":15.74},{"k":"n","s":575,"r":0.77,"z":15.72},{"k":"n","s":575,"r":0.8,"z":15.74},{"k":"n","s":575,"r":0.82,"z":15.72},{"k":"n","s":575,"r":0.85,"z":15.74},
{"k":"n","s":580,"r":0.55,"z":15.94},{"k":"n","s":580,"r":0.57,"z":15.92},{"k":"n","s":580,"r":0.6,"z":15.94},{"k":"n","s":580,"r":0.62,"z":15.92},{"k":"n","s":580,"r":0.65,"z":15.94},{"k":"n","s":580,"r":0.67,"z":15.92},{"k":"n","s":580,"r":0.7,"z":15.94},{"k":"n","s":580,"r":0.72,"z":15.92},{"k":"n","s":580,"r":0.75,"z":15.94},{"k":"n","s":580,"r":0.77,"z":15.92},{"k":"n","s":580,"r":0.8,"z":15.94},{"k":"n","s":580,"r":0.82,"z":15.92},{"k":"n","s":580,"r":0.85,"z":15.92},
{"k":"n","s":585,"r":0.55,"z":16.01},{"k":"n","s":585,"r":0.57,"z":16.03},{"k":"n","s":585,"r":0.6,"z":16.01},{"k":"n","s":585,"r":0.62,"z":16.03},{"k":"n","s":585,"r":0.65,"z":16.01},{"k":"n","s":585,"r":0.67,"z":16.03},{"k":"n","s":585,"r":0.7,"z":16.01},{"k":"n","s":585,"r":0.72,"z":16.03},{"k":"n","s":585,"r":0.75,"z":16.01},{"k":"n","s":585,"r":0.77,"z":16.03},{"k":"n","s":585,"r":0.8,"z":16.01},{"k":"n","s":585,"r":0.82,"z":16.03},{"k":"n","s":585,"r":0.85,"z":16.01},
{"k":"n","s":590,"r":0.55,"z":16.15},{"k":"n","s":590,"r":0.57,"z":16.13},{"k":"n","s":590,"r":0.6,"z":16.15},{"k":"n","s":590,"r":0.62,"z":16.13},{"k":"n","s":590,"r":0.65,"z":16.15},{"k":"n","s":590,"r":0.67,"z":16.13},{"k":"n","s":590,"r":0.7,"z":16.15},{"k":"n","s":590,"r":0.72,"z":16.13},{"k":"n","s":590,"r":0.75,"z":16.15},{"k":"n","s":590,"r":0.77,"z":16.13},{"k":"n","s":590,"r":0.8,"z":16.15},{"k":"n","s":590,"r":0.82,"z":16.13},{"k":"n","s":590,"r":0.85,"z":16.15},
{"k":"n","s":595,"r":0.55,"z":16.3},{"k":"n","s":595,"r":0.57,"z":16.32},{"k":"n","s":595,"r":0.6,"z":16.3},{"k":"n","s":595,"r":0.62,"z":16.32},{"k":"n","s":595,"r":0.65,"z":16.3},{"k":"n","s":595,"r":0.67,"z":16.32},{"k":"n","s":595,"r":0.7,"z":16.3},{"k":"n","s":595,"r":0.72,"z":16.32},{"k":"n","s":595,"r":0.75,"z":16.3},{"k":"n","s":595,"r":0.77,"z":16.32},{"k":"n","s":595,"r":0.8,"z":16.3},{"k":"n","s":595,"r":0.82,"z":16.32},{"k":"n","s":595,"r":0.85,"z":16.3},
{"k":"n","s":600,"r":0.55,"z":16.44},{"k":"n","s":600,"r":0.57,"z":16.42},{"k":"n","s":600,"r":0.6,"z":16.44},{"k":"n","s":600,"r":0.62,"z":16.42},{"k":"n","s":600,"r":0.65,"z":16.44},{"k":"n","s":600,"r":0.67,"z":16.42},{"k":"n","s":600,"r":0.7,"z":16.44},{"k":"n","s":600,"r":0.72,"z":16.42},{"k":"n","s":600,"r":0.75,"z":16.44},{"k":"n","s":600,"r":0.77,"z":16.42},{"k":"n","s":600,"r":0.8,"z":16.44},{"k":"n","s":600,"r":0.82,"z":16.42},{"k":"n","s":600,"r":0.85,"z":16.44},
{"k":"n","s":605,"r":0.55,"z":16.54},{"k":"n","s":605,"r":0.57,"z":16.56},{"k":"n","s":605,"r":0.6,"z":16.54},{"k":"n","s":605,"r":0.62,"z":16.56},{"k":"n","s":605,"r":0.65,"z":16.54},{"k":"n","s":605,"r":0.67,"z":16.56},{"k":"n","s":605,"r":0.7,"z":16.54},{"k":"n","s":605,"r":0.72,"z":16.56},{"k":"n","s":605,"r":0.75,"z":16.54},{"k":"n","s":605,"r":0.77,"z":16.56},{"k":"n","s":605,"r":0.8,"z":16.54},{"k":"n","s":605,"r":0.82,"z":16.56},{"k":"n","s":605,"r":0.85,"z":16.54},
{"k":"n","s":610,"r":0.55,"z":16.67},{"k":"n","s":610,"r":0.57,"z":16.65},{"k":"n","s":610,"r":0.6,"z":16.67},{"k":"n","s":610,"r":0.62,"z":16.65},{"k":"n","s":610,"r":0.65,"z":16.67},{"k":"n","s":610,"r":0.67,"z":16.65},{"k":"n","s":610,"r":0.7,"z":16.67},{"k":"n","s":610,"r":0.72,"z":16.65},{"k":"n","s":610,"r":0.75,"z":16.67},{"k":"n","s":610,"r":0.77,"z":16.65},{"k":"n","s":610,"r":0.8,"z":16.67},{"k":"n","s":610,"r":0.82,"z":16.65},{"k":"n","s":610,"r":0.85,"z":16.67},
{"k":"n","s":615,"r":0.55,"z":16.92},{"k":"n","s":615,"r":0.57,"z":16.92},{"k":"n","s":615,"r":0.6,"z":16.92},{"k":"n","s":615,"r":0.62,"z":16.92},{"k":"n","s":615,"r":0.65,"z":16.92},{"k":"n","s":615,"r":0.67,"z":16.92},{"k":"n","s":615,"r":0.7,"z":16.92},{"k":"n","s":615,"r":0.72,"z":16.92},{"k":"n","s":615,"r":0.75,"z":16.92},{"k":"n","s":615,"r":0.77,"z":16.92},{"k":"n","s":615,"r":0.8,"z":16.92},{"k":"n","s":615,"r":0.82,"z":16.92},{"k":"n","s":615,"r":0.85,"z":16.92},
{"k":"n","s":620,"r":0.55,"z":16.96},{"k":"n","s":620,"r":0.57,"z":16.96},{"k":"n","s":620,"r":0.6,"z":16.96},{"k":"n","s":620,"r":0.62,"z":16.96},{"k":"n","s":620,"r":0.65,"z":16.96},{"k":"n","s":620,"r":0.67,"z":16.96},{"k":"n","s":620,"r":0.7,"z":16.96},{"k":"n","s":620,"r":0.72,"z":16.96},{"k":"n","s":620,"r":0.75,"z":16.96},{"k":"n","s":620,"r":0.77,"z":16.96},{"k":"n","s":620,"r":0.8,"z":16.96},{"k":"n","s":620,"r":0.82,"z":16.96},{"k":"n","s":620,"r":0.85,"z":16.96},
{"k":"t","s":540,"r":0.4622,"z":13.9345,"t":"540"},{"k":"t","s":560,"r":0.4622,"z":13.9345,"t":"560"},{"k":"t","s":580,"r":0.4622,"z":13.9345,"t":"580"},{"k":"t","s":600,"r":0.4622,"z":13.9345,"t":"600"},{"k":"t","s":620,"r":0.4622,"z":13.9345,"t":"620"},
{"k":"t","s":533.9,"r":0.5,"z":13.9035,"t":"0.5"},{"k":"t","s":533.9,"r":0.6,"z":13.9035,"t":"0.6"},{"k":"t","s":533.9,"r":0.7,"z":13.9035,"t":"0.7"},{"k":"t","s":533.9,"r":0.8,"z":13.9035,"t":"0.8"},{"k":"t","s":533.9,"r":0.9,"z":13.89,"t":"0.9"},
{"k":"z","s":540,"r":0.9,"z":14,"t":"14"},{"k":"z","s":540,"r":0.9,"z":14.5,"t":"14.5"},{"k":"z","s":540,"r":0.9,"z":15,"t":"15"},{"k":"z","s":540,"r":0.9,"z":15.5,"t":"15.5"},{"k":"z","s":540,"r":0.9,"z":16,"t":"16"},{"k":"z","s":540,"r":0.9,"z":16.5,"t":"16.5"},{"k":"z","s":540,"r":0.9,"z":17,"t":"17"},
{"k":"l","s":540,"r":1.0135,"z":17.5,"t":"(b)"},{"k":"l","s":540,"r":0.77,"z":12.866,"t":"Reflux ratio"},{"k":"l","s":620,"r":0.6387,"z":12.346,"t":"Stream rate [kg/h]"},
{"k":"y","s":540,"r":1.0153,"z":14.657,"t":"Resource Conservation [kg/kg product]"}
]},"transform":[{"calculate":"313+289*(datum.s-540)/80-222*(datum.r-0.5)/0.4","as":"px"},{"calculate":"853-77*(datum.s-540)/80-102*(datum.r-0.5)/0.4-222*(datum.z-14)/3","as":"py"}],
"encoding":{"x":{"field":"px","type":"quantitative","scale":{"domain":[0,672],"nice":false,"zero":false},"axis":null},"y":{"field":"py","type":"quantitative","scale":{"domain":[880,440],"nice":false,"zero":false},"axis":null}},
"layer":[
{"transform":[{"filter":"datum.k=='g'"}],"mark":{"type":"line","stroke":"#333","strokeWidth":1.2,"strokeDash":[1,4]},"encoding":{"detail":{"field":"g"}}},
{"transform":[{"filter":"datum.k=='a'"}],"mark":{"type":"line","stroke":"#333","strokeWidth":1.4},"encoding":{"detail":{"field":"g"}}},
{"transform":[{"filter":"datum.k=='b'"}],"mark":{"type":"line","stroke":null,"strokeWidth":0},"encoding":{"fill":{"field":"c","type":"quantitative","legend":null,"scale":{"domain":[14.08,14.435,15.145,15.855,16.565,16.92],"range":["#00008f","#0000ff","#00ffff","#ffff00","#ff0000","#800000"],"interpolate":"rgb"}},"detail":{"field":"b"},"order":{"field":"o"}}},
{"transform":[{"filter":"datum.k=='n'"}],"mark":{"type":"line","stroke":"#111","strokeWidth":1.1},"encoding":{"detail":{"field":"r"}}},
{"transform":[{"filter":"datum.k=='n'"}],"mark":{"type":"line","stroke":"#111","strokeWidth":1.1},"encoding":{"detail":{"field":"s"}}},
{"transform":[{"filter":"datum.k=='t'"}],"mark":{"type":"text","fontSize":18,"baseline":"middle","align":"center"},"encoding":{"text":{"field":"t"}}},
{"transform":[{"filter":"datum.k=='z'"}],"mark":{"type":"text","fontSize":18,"baseline":"middle","align":"right","dx":-12,"dy":-3},"encoding":{"text":{"field":"t"}}},
{"transform":[{"filter":"datum.k=='l'"}],"mark":{"type":"text","fontSize":21.5,"baseline":"middle","align":"center"},"encoding":{"text":{"field":"t"}}},
{"transform":[{"filter":"datum.k=='y'"}],"mark":{"type":"text","fontSize":21.5,"baseline":"middle","align":"center","angle":270},"encoding":{"text":{"field":"t"}}}
]}
]}
